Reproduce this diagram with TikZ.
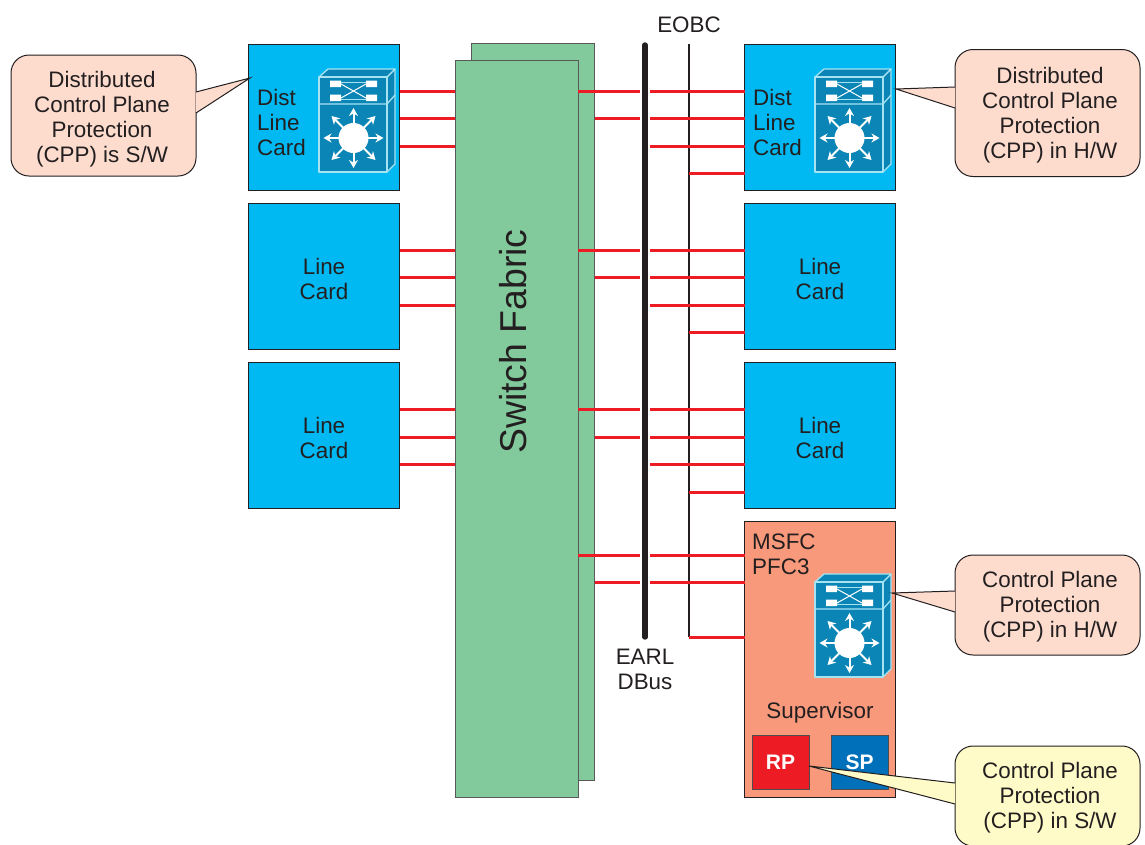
\documentclass[tikz,border=0pt]{standalone}
\usepackage{fontspec}
\setmainfont{Liberation Sans}
\usetikzlibrary{arrows.meta}
\definecolor{ink}{HTML}{231F20}
\definecolor{cardblue}{HTML}{00B9F2}
\definecolor{fabric}{HTML}{82CA9C}
\definecolor{supbg}{HTML}{F8997B}
\definecolor{rpred}{HTML}{ED1C24}
\definecolor{spblue}{HTML}{0070BA}
\definecolor{icon}{HTML}{0A85B5}
\definecolor{iconline}{HTML}{A5E3F3}
\definecolor{peach}{HTML}{FDDCCE}
\definecolor{cream}{HTML}{FFFBC8}
\tikzset{
  txt/.style={font=\fontsize{22.4}{25}\selectfont,text=ink,align=center,inner sep=0pt},
  ltxt/.style={font=\fontsize{22.4}{25}\selectfont,text=ink,align=left,inner sep=0pt},
  card/.style={draw=ink,line width=0.95pt,fill=cardblue,minimum width=151pt,minimum height=146pt,anchor=north west,outer sep=0pt,inner sep=0pt},
  fabricbox/.style={draw=black!65,line width=1pt,fill=fabric,minimum width=123pt,minimum height=737pt,anchor=north west,outer sep=0pt,inner sep=0pt},
  chip/.style={draw=ink!80,line width=0.9pt,minimum width=57pt,minimum height=54pt,anchor=north west,outer sep=0pt,inner sep=0pt,font=\bfseries\fontsize{21}{25}\selectfont,text=white},
  calloutbox/.style={draw=ink,line width=1pt,rounded corners=18pt,anchor=north west,outer sep=0pt,inner sep=0pt,minimum width=185pt},
  ptr/.style={draw=ink,line width=1pt,line join=miter},
  redline/.style={draw=rpred,line width=2.8pt},
  ic/.style={draw=iconline,line width=1.3pt,fill=icon,line join=round},
  spoke/.style={draw=white,line width=2pt,-{Stealth[length=8pt,width=9pt]}},
  xline/.style={draw=white,line width=1pt},
  switchicon/.pic={
    \path[ic] (68,0) -- (76,-8) -- (76,87) -- (68,95) -- cycle;
    \path[ic] (0,0) -- (9,-8) -- (76,-8) -- (68,0) -- cycle;
    \path[ic] (0,0) rectangle (68,95);
    \draw[draw=iconline,line width=1.3pt] (0,27) -- (68,27) -- (76,18);
    \fill[white] (11,3.5) rectangle (22,10) (47,3.5) rectangle (58,10)
                 (11,17.5) rectangle (22,24) (47,17.5) rectangle (58,24);
    \draw[xline] (22,7) -- (47,21) (22,21) -- (47,7);
    \draw[draw=iconline,line width=1pt] (22,5.5) -- (47,5.5) (22,22.5) -- (47,22.5);
    \fill[white] (34.5,61) circle (15);
    \foreach \dx/\dy in {30/0,-30/0,0/30,0/-30,22/22,-22/22,22/-22,-22/-22}
      \draw[spoke] (34.5,61) -- ++(\dx,\dy);
  }
}
\begin{document}
\begin{tikzpicture}[x=1pt,y=-1pt]
\useasboundingbox (0,0) rectangle (1145,844);
\clip (0,0) rectangle (1145,844);
\fill[white] (0,0) rectangle (1145,844);

% switch fabric
\node[fabricbox] (Fb) at (471.5,43.5) {};
\node[fabricbox] (F) at (455,60.5) {};
\node[txt,font=\fontsize{37.4}{40}\selectfont,rotate=90] (Ftxt) at (513,341.5) {Switch Fabric};

% buses
\coordinate (dbusT) at (645,45);
\coordinate (dbusB) at (645,637);
\coordinate (eobcT) at (689,44);
\coordinate (eobcB) at (689,637);
\coordinate (gapL) at (640,0);
\coordinate (gapR) at (650,0);
\draw[ink,line width=5.4pt,line cap=round] (dbusT) -- (dbusB);
\draw[ink,line width=2.4pt] (eobcT) -- (eobcB);

% cards
\node[card] (L1) at (248.5,44.5) {};
\node[card] (L2) at (248.5,203.5) {};
\node[card] (L3) at (248.5,362.5) {};
\node[card] (R1) at (744.5,44.5) {};
\node[card] (R2) at (744.5,203.5) {};
\node[card] (R3) at (744.5,362.5) {};
\node[card,fill=supbg,minimum height=276pt] (S) at (744.5,521.5) {};
\node[txt] (L2t) at (324,278.7) {Line\\Card};
\node[txt] (L3t) at (324,437.7) {Line\\Card};
\node[txt] (R2t) at (820,278.7) {Line\\Card};
\node[txt] (R3t) at (820,437.7) {Line\\Card};
\node[ltxt,anchor=west] (L1t) at (257,122.2) {Dist\\Line\\Card};
\node[ltxt,anchor=west] (R1t) at (753,122.2) {Dist\\Line\\Card};
\node[ltxt,anchor=west] (St) at (752,554) {MSFC\\PFC3};
\node[txt] (Sv) at (820,713) {Supervisor};
\node[chip,fill=rpred] (RP) at (752,735) {RP};
\node[chip,fill=spblue] (SP) at (831,735) {SP};

% icons
\pic at (319,77) {switchicon};
\pic at (815,77) {switchicon};
\pic at (815,582) {switchicon};

% red links, left side
\foreach \y in {91.5,118.5,146.5} \draw[redline] (L1.east |- 0,\y) -- (F.west |- 0,\y);
\foreach \y in {250.5,277.5,305.5} \draw[redline] (L2.east |- 0,\y) -- (F.west |- 0,\y);
\foreach \y in {409.5,437.5,464.5} \draw[redline] (L3.east |- 0,\y) -- (F.west |- 0,\y);

% red links, right side
\foreach \c/\a/\b/\d/\e in {R1/91.5/118.5/146.5/173.5,R2/250.5/277.5/305.5/332.5,R3/409.5/437.5/464.5/492.5}{
  \draw[redline] (F.east |- 0,\a) -- (gapL |- 0,\a);
  \draw[redline] (gapR |- 0,\a) -- (\c.west |- 0,\a);
  \draw[redline] (Fb.east |- 0,\b) -- (gapL |- 0,\b);
  \draw[redline] (gapR |- 0,\b) -- (\c.west |- 0,\b);
  \draw[redline] (gapR |- 0,\d) -- (\c.west |- 0,\d);
  \draw[redline] (eobcT |- 0,\e) -- (\c.west |- 0,\e);
}
\draw[redline] (F.east |- 0,555.5) -- (gapL |- 0,555.5);
\draw[redline] (gapR |- 0,555.5) -- (S.west |- 0,555.5);
\draw[redline] (Fb.east |- 0,582.5) -- (gapL |- 0,582.5);
\draw[redline] (gapR |- 0,582.5) -- (S.west |- 0,582.5);
\draw[redline] (eobcT |- 0,637.5) -- (S.west |- 0,637.5);

% bus labels
\node[txt] (eobcL) at (689,25) {EOBC};
\node[txt] (earlL) at (645,669.5) {EARL\\DBus};

% callouts
\node[calloutbox,fill=peach,minimum height=121pt] (C1) at (11,55) {};
\node[txt] (C1t) at (102,119.5) {Distributed\\Control Plane\\Protection\\(CPP) is S/W};
\coordinate (t1) at (250,78);
\fill[peach] (C1.east |- 0,92) -- (t1) -- (C1.east |- 0,113) -- cycle;
\draw[ptr] (C1.east |- 0,92) -- (t1) -- (C1.east |- 0,113);

\node[calloutbox,fill=peach,minimum height=127pt] (C2) at (955,49.5) {};
\node[txt] (C2t) at (1050,115) {Distributed\\Control Plane\\Protection\\(CPP) in H/W};
\coordinate (t2) at (896,89);
\fill[peach] (C2.west |- 0,87) -- (t2) -- (C2.west |- 0,108) -- cycle;
\draw[ptr] (C2.west |- 0,87) -- (t2) -- (C2.west |- 0,108);

\node[calloutbox,fill=peach,minimum height=100pt] (C3) at (955,555) {};
\node[txt] (C3t) at (1050,607) {Control Plane\\Protection\\(CPP) in H/W};
\coordinate (t3) at (892,593);
\fill[peach] (C3.west |- 0,591) -- (t3) -- (C3.west |- 0,612) -- cycle;
\draw[ptr] (C3.west |- 0,591) -- (t3) -- (C3.west |- 0,612);

\node[calloutbox,fill=cream,minimum height=100pt] (C4) at (955,746) {};
\node[txt] (C4t) at (1050,798) {Control Plane\\Protection\\(CPP) in S/W};
\coordinate (t4) at (809,766);
\fill[cream] (C4.west |- 0,783) -- (t4) -- (C4.west |- 0,804) -- cycle;
\draw[ptr] (C4.west |- 0,783) -- (t4) -- (C4.west |- 0,804);
\end{tikzpicture}
\end{document}
